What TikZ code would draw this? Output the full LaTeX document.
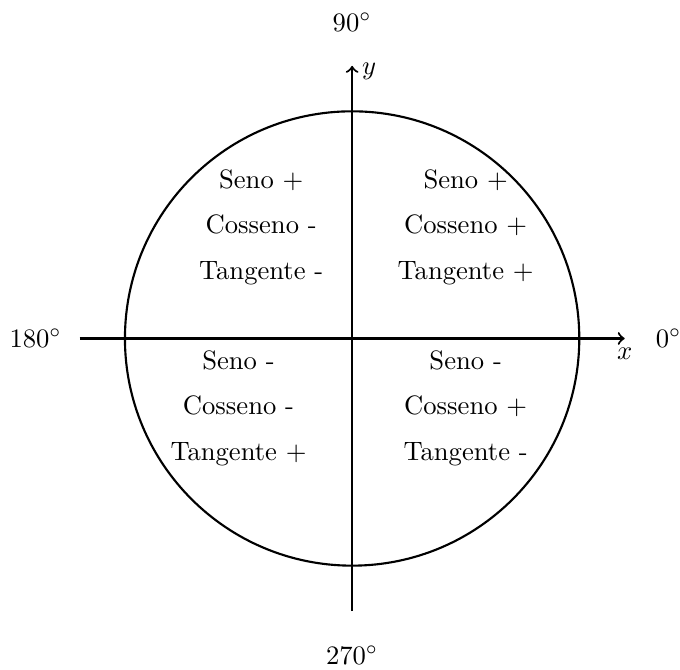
\documentclass[tikz,border=0pt]{standalone}
\usepackage{amsmath, amssymb}
\usepackage{tikz}

\begin{document}
\begin{tikzpicture}[quadtext/.style={align=center}]
	\useasboundingbox (-4.65,-4.37) rectangle (4.33,4.47);
	\node[circle, draw, thick, minimum size=6cm, inner sep=0pt] (circ) at (0,0) {};
	\coordinate (xl) at (-3.6,0);
	\coordinate (xr) at (3.6,0);
	\coordinate (yb) at (0,-3.6);
	\coordinate (yt) at (0,3.6);
	\draw[thick, ->] (xl) -- (xr) node[below] (xlab) {$x$};
	\draw[thick, ->] (yb) -- (yt) node[right, yshift=-2pt] (ylab) {$y$};
	\foreach \a/\t in {0/0, 90/90, 180/180, 270/270} {
		\node (ang\a) at (\a:4.18) {$\t^\circ$};
	}
	\node[quadtext] (qone) at (1.5,1.47) {Seno +\\[5pt] Cosseno +\\[5pt] Tangente +};
	\node[quadtext] (qtwo) at (-1.2,1.47) {Seno +\\[5pt] Cosseno -\\[5pt] Tangente -};
	\node[quadtext] (qthree) at (-1.5,-0.92) {Seno -\\[5pt] Cosseno -\\[5pt] Tangente +};
	\node[quadtext] (qfour) at (1.5,-0.92) {Seno -\\[5pt] Cosseno +\\[5pt] Tangente -};
\end{tikzpicture}
\end{document}
